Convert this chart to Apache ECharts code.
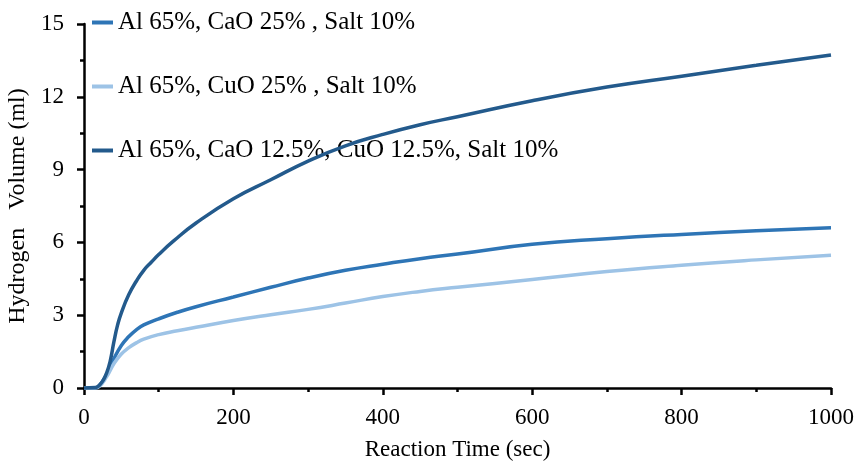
<!DOCTYPE html>
<html>
<head>
<meta charset="utf-8">
<script src="https://cdn.jsdelivr.net/npm/echarts@6/dist/echarts.min.js"></script>
<style>
  html, body { margin: 0; padding: 0; background: #ffffff; }
  #chart { width: 857px; height: 465px; }
</style>
</head>
<body>
<div id="chart"></div>
<script>
// Reaction time samples (sec)
const timeCaO = [0, 15, 20, 30, 40, 50, 60, 70, 80, 100, 125, 150, 200, 250, 300, 350, 400, 450, 500, 600, 700, 800, 900, 1000];
const timeCuO = [0, 15, 20, 30, 40, 50, 60, 70, 80, 100, 125, 150, 200, 250, 300, 350, 400, 450, 500, 600, 700, 800, 900, 1000];
const timeMix = [0, 15, 20, 25, 30, 35, 40, 45, 50, 60, 70, 80, 90, 100, 120, 150, 200, 250, 300, 350, 400, 450, 500, 600, 700, 800, 900, 1000];

// Hydrogen volume (ml)
const volCaO = [0, 0, 0.08, 0.55, 1.2, 1.75, 2.12, 2.4, 2.6, 2.85, 3.12, 3.35, 3.75, 4.15, 4.53, 4.85, 5.1, 5.33, 5.52, 5.92, 6.15, 6.33, 6.48, 6.6];
const volCuO = [0, 0, 0.05, 0.45, 1.0, 1.4, 1.66, 1.86, 2.01, 2.2, 2.36, 2.5, 2.78, 3.02, 3.24, 3.5, 3.77, 3.98, 4.15, 4.47, 4.8, 5.06, 5.28, 5.47];
const volMix = [0, 0.02, 0.1, 0.28, 0.6, 1.1, 1.9, 2.6, 3.1, 3.85, 4.4, 4.85, 5.18, 5.5, 6.06, 6.8, 7.8, 8.58, 9.35, 9.98, 10.45, 10.85, 11.18, 11.84, 12.4, 12.85, 13.3, 13.72];

const seriesNames = [
  'Al 65%, CaO 25% , Salt 10%',
  'Al 65%, CuO 25% , Salt 10%',
  'Al 65%, CaO 12.5%, CuO 12.5%, Salt 10%'
];
const seriesColors = ['#2e75b6', '#9dc3e6', '#235a8c'];

const xTicks = { min: 0, max: 1000, interval: 200 };
const yTicks = { min: 0, max: 15, interval: 3 };

const pairs = (xs, ys) => xs.map((x, i) => [x, ys[i]]);

const FONT = '"Liberation Serif", "Times New Roman", serif';

const chart = echarts.init(document.getElementById('chart'), null, { renderer: 'canvas' });

function lineSeries(idx, data) {
  return {
    name: seriesNames[idx],
    type: 'line',
    data: data,
    symbol: 'none',
    smooth: 0.5,
    z: 3 + idx,
    lineStyle: { color: seriesColors[idx], width: 3.5 },
    itemStyle: { color: seriesColors[idx] }
  };
}

const axisCommon = {
  axisLine: { show: true, onZero: false, lineStyle: { color: '#000', width: 2.5 } },
  axisTick: { show: true, inside: false, length: 7, lineStyle: { color: '#000', width: 2.5 } },
  minorTick: { show: true, splitNumber: 2, length: 4, lineStyle: { color: '#000', width: 2.5 } },
  splitLine: { show: false },
  minorSplitLine: { show: false }
};

const plain = v => String(v);

chart.setOption({
  animation: false,
  backgroundColor: '#ffffff',
  grid: { left: 84, right: 26, top: 24, bottom: 77, containLabel: false, outerBoundsMode: 'none' },
  legend: {
    orient: 'vertical',
    left: 92,
    top: 10,
    padding: 0,
    itemGap: 39,
    itemWidth: 21,
    itemHeight: 4,
    icon: 'rect',
    data: seriesNames,
    textStyle: { fontFamily: FONT, fontSize: 25, color: '#000' }
  },
  xAxis: Object.assign({
    type: 'value',
    min: xTicks.min,
    max: xTicks.max,
    interval: xTicks.interval,
    name: 'Reaction Time (sec)',
    nameLocation: 'middle',
    nameGap: 50,
    nameTextStyle: { fontFamily: FONT, fontSize: 23, color: '#000' },
    axisLabel: { fontFamily: FONT, fontSize: 23, color: '#000', margin: 18, formatter: plain }
  }, axisCommon),
  yAxis: Object.assign({
    type: 'value',
    min: yTicks.min,
    max: yTicks.max,
    interval: yTicks.interval,
    name: 'Hydrogen   Volume (ml)',
    nameLocation: 'middle',
    nameGap: 51,
    nameTextStyle: { fontFamily: FONT, fontSize: 24, color: '#000' },
    axisLabel: { fontFamily: FONT, fontSize: 23, color: '#000', margin: 20, formatter: plain }
  }, axisCommon),
  series: [
    lineSeries(0, pairs(timeCaO, volCaO)),
    lineSeries(1, pairs(timeCuO, volCuO)),
    lineSeries(2, pairs(timeMix, volMix))
  ]
});
</script>
</body>
</html>
